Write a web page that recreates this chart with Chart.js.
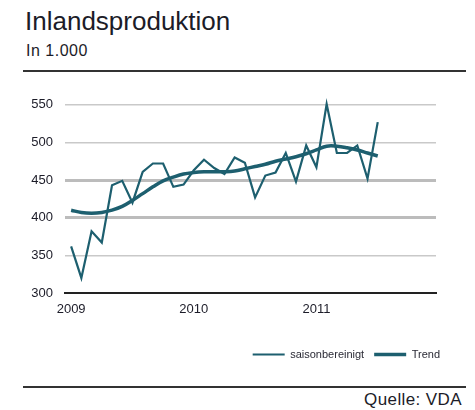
<!DOCTYPE html>
<html>
<head>
<meta charset="utf-8">
<script src="https://cdn.jsdelivr.net/npm/chart.js@4"></script>
<style>
  body { margin: 0; background: #fff; width: 475px; height: 410px; position: relative; overflow: hidden; font-family: "Liberation Sans", Arial, sans-serif; color: #1c1c28; }
  .title { position: absolute; left: 25px; top: 8px; font-size: 26px; line-height: 26px; }
  .sub { position: absolute; left: 26px; top: 43px; font-size: 16px; line-height: 16px; letter-spacing: 0.5px; }
  .rule { position: absolute; left: 23px; width: 443px; height: 2px; background: #333; }
  .source { position: absolute; right: 13px; top: 391px; font-size: 17px; line-height: 17px; letter-spacing: 0.4px; }
  #wrap { position: absolute; left: 0; top: 85px; width: 475px; height: 290px; }
</style>
</head>
<body>
<div class="title">Inlandsproduktion</div>
<div class="sub">In 1.000</div>
<div class="rule" style="top:70px"></div>
<div id="wrap"><canvas id="prodChart"></canvas></div>
<div class="rule" style="top:386px"></div>
<div class="source">Quelle: VDA</div>
<script>
// monthly values, Jan 2009 - Jul 2011
const years = ["2009", "2010", "2011"];
const saisonbereinigt = [362, 320, 382, 367, 443, 449, 420, 461, 472, 472, 441, 444,
  463, 477, 466, 458, 480, 473, 427, 456, 460, 486, 448, 496,
  467, 551, 486, 486, 496, 452, 527];
const trend = [410, 407, 406, 407, 410, 415, 423, 432, 441, 449, 454, 458,
  460, 461, 461, 461, 462, 465, 468, 471, 475, 478, 481, 485,
  490, 495, 495, 493, 490, 486, 482];

const lineColor = "#1d5f6f";
const tickFont = { family: "Liberation Sans", size: 13 };

new Chart(document.getElementById("prodChart"), {
  type: "line",
  data: {
    datasets: [
      {
        label: "saisonbereinigt",
        data: saisonbereinigt.map((v, i) => ({ x: i, y: v })),
        borderColor: lineColor,
        backgroundColor: lineColor,
        borderWidth: 2.2,
        tension: 0,
        pointRadius: 0,
        clip: false,
      },
      {
        label: "Trend",
        data: trend.map((v, i) => ({ x: i, y: v })),
        borderColor: lineColor,
        backgroundColor: lineColor,
        borderWidth: 3.5,
        tension: 0.4,
        pointRadius: 0,
        clip: false,
      },
    ],
  },
  options: {
    responsive: true,
    maintainAspectRatio: false,
    animation: false,
    layout: {
      padding: { top: 9, right: 25, bottom: 5, left: 0 },
    },
    plugins: {
      tooltip: { enabled: false },
      legend: {
        display: true,
        position: "bottom",
        align: "end",
        labels: {
          usePointStyle: true,
          pointStyle: "line",
          pointStyleWidth: 32,
          padding: 10,
          color: "#2a2a35",
          font: { family: "Liberation Sans", size: 11 },
        },
      },
    },
    scales: {
      x: {
        type: "linear",
        min: -0.6,
        max: 35.7,
        grid: { display: false },
        border: { display: true, color: "#222", width: 2 },
        afterBuildTicks: function (axis) {
          axis.ticks = years.map((y, i) => ({ value: i * 12 }));
        },
        afterFit: function (axis) {
          axis.height = 46;
        },
        ticks: {
          padding: 1,
          color: "#1c1c28",
          font: tickFont,
          maxRotation: 0,
          callback: function (value) {
            return years[value / 12];
          },
        },
      },
      y: {
        min: 300,
        max: 550,
        afterFit: function (axis) {
          axis.width = 65;
        },
        border: { display: false },
        grid: {
          drawTicks: false,
          color: function (ctx) {
            if (ctx.tick.value === 300) return "rgba(0,0,0,0)";
            return ctx.tick.value === 400 || ctx.tick.value === 450 ? "#bcbcbc" : "#c9c9c9";
          },
          lineWidth: function (ctx) {
            return ctx.tick.value === 400 || ctx.tick.value === 450 ? 3 : 1.5;
          },
        },
        ticks: {
          stepSize: 50,
          padding: 12,
          color: "#1c1c28",
          font: tickFont,
        },
      },
      yRight: {
        position: "right",
        display: true,
        grid: { display: false },
        border: { display: false },
        ticks: { display: false },
        afterFit: function (axis) {
          axis.width = 14;
        },
      },
    },
  },
});
</script>
</body>
</html>
